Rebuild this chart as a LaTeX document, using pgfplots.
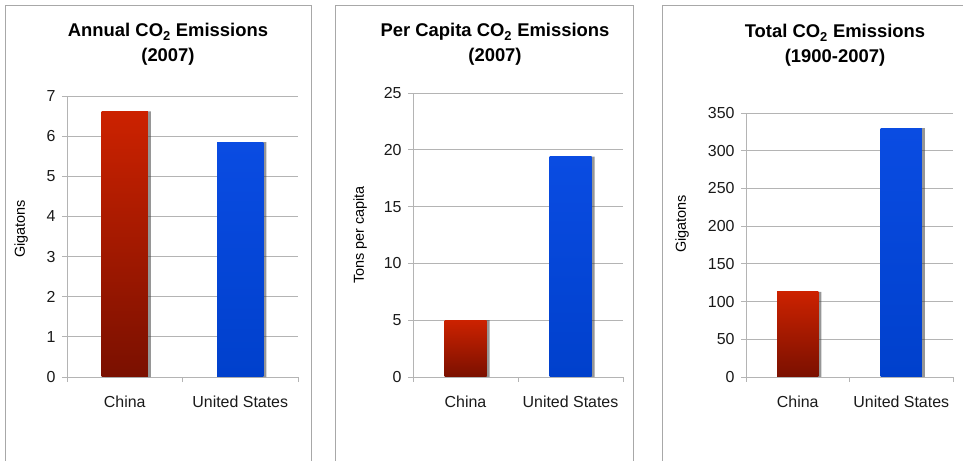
\documentclass[border=0pt]{standalone}
\usepackage{pgfplots}
\pgfplotsset{compat=1.18}
\usepackage{fontspec}
\setmainfont{Liberation Sans}
\definecolor{redtop}{HTML}{CC2200}
\definecolor{redmid}{HTML}{A81800}
\definecolor{redbot}{HTML}{7A1000}
\definecolor{bluetop}{HTML}{0A4CE2}
\definecolor{bluemid}{HTML}{0446D8}
\definecolor{bluebot}{HTML}{0040CC}
\definecolor{gridc}{HTML}{B4B4B4}
\definecolor{framec}{HTML}{A8A8A8}
\pgfplotsset{
  panel/.style={
    scale only axis,
    anchor=south west,
    xmin=-0.5, xmax=1.5, ymin=0,
    xtick={0,1}, xticklabels={China,United States},
    minor xtick={-0.5,0.5,1.5},
    major x tick style={draw=none},
    minor tick length=5bp,
    major tick length=5bp,
    tick align=outside,
    axis x line*=bottom, axis y line*=left,
    axis line style={-, draw=gridc, line width=0.8bp},
    every tick/.style={draw=gridc, line width=0.8bp},
    ymajorgrids,
    major grid style={draw=gridc, line width=0.8bp},
    tick label style={font=\fontsize{16}{19}\selectfont, text=black!90},
    /pgf/number format/assume math mode=true,
    xticklabel style={yshift=-10bp},
    yticklabel style={xshift=-3bp},
    label style={font=\fontsize{14.5}{17}\selectfont},
    clip=false,
  },
  shadowbar/.style={ybar, bar width=0.4, bar shift=3bp, draw=none,
    fill=black!75, fill opacity=0.55},
  redbar/.style={ybar, bar width=0.4, bar shift=0pt, draw=none,
    top color=redtop, middle color=redmid, bottom color=redbot},
  bluebar/.style={ybar, bar width=0.4, bar shift=0pt, draw=none,
    top color=bluetop, middle color=bluemid, bottom color=bluebot},
}
\begin{document}
\begin{tikzpicture}
\path[use as bounding box] (0,0) rectangle (963bp,461bp);
% panel frames
\draw[framec, line width=0.9bp] (5bp,0) -- (5bp,456bp) -- (311bp,456bp) -- (311bp,0);
\draw[framec, line width=0.9bp] (335bp,0) -- (335bp,456bp) -- (633bp,456bp) -- (633bp,0);
\draw[framec, line width=0.9bp] (662bp,0) -- (662bp,456bp) -- (963bp,456bp);
% titles
\begin{scope}[every node/.style={anchor=base, font=\fontsize{18.5}{22}\bfseries}]
\node at (168bp,424bp) {Annual CO\textsubscript{2} Emissions};
\node at (168bp,399bp) {(2007)};
\node at (495bp,424bp) {Per Capita CO\textsubscript{2} Emissions};
\node at (495bp,399bp) {(2007)};
\node at (835bp,423bp) {Total CO\textsubscript{2} Emissions};
\node at (835bp,398bp) {(1900-2007)};
\end{scope}
% panel 1
\begin{axis}[panel, at={(67bp,84bp)}, width=231bp, height=281bp,
  ymax=7, ytick={0,1,2,3,4,5,6,7},
  ylabel={Gigatons},
  ylabel style={at={(axis description cs:-0.199,0.527)}, anchor=center}]
\addplot[shadowbar] coordinates {(0,6.62) (1,5.85)};
\addplot[redbar] coordinates {(0,6.62)};
\addplot[bluebar] coordinates {(1,5.85)};
\end{axis}
% panel 2
\begin{axis}[panel, at={(413bp,84bp)}, width=210bp, height=284bp,
  ymax=25, ytick={0,5,10,15,20,25},
  ylabel={Tons per capita},
  ylabel style={at={(axis description cs:-0.252,0.5)}, anchor=center}]
\addplot[shadowbar] coordinates {(0,5.0) (1,19.4)};
\addplot[redbar] coordinates {(0,5.0)};
\addplot[bluebar] coordinates {(1,19.4)};
\end{axis}
% panel 3
\begin{axis}[panel, at={(746bp,84bp)}, width=207bp, height=264bp,
  ymax=350, ytick={0,50,100,150,200,250,300,350},
  ylabel={Gigatons},
  ylabel style={at={(axis description cs:-0.309,0.58)}, anchor=center}]
\addplot[shadowbar] coordinates {(0,113) (1,330)};
\addplot[redbar] coordinates {(0,113)};
\addplot[bluebar] coordinates {(1,330)};
\end{axis}
\end{tikzpicture}
\end{document}
